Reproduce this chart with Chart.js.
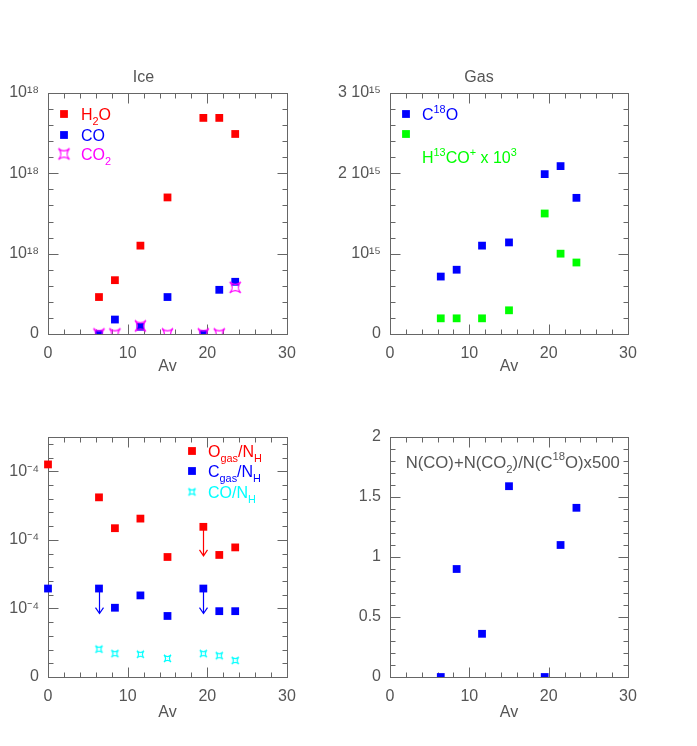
<!DOCTYPE html>
<html><head><meta charset="utf-8">
<script src="https://cdn.jsdelivr.net/npm/chart.js@4"></script>
<style>
html,body{margin:0;padding:0;background:#fff;}
#wrap{position:relative;width:697px;height:746px;overflow:hidden;background:#fff;}
canvas{position:absolute;}
</style></head><body>
<div id="wrap">
<canvas id="cIce" width="330" height="390" style="left:0;top:0"></canvas>
<canvas id="cGas" width="367" height="390" style="left:330px;top:0"></canvas>
<canvas id="cAbund" width="330" height="356" style="left:0;top:390px"></canvas>
<canvas id="cRatio" width="367" height="356" style="left:330px;top:390px"></canvas>
</div>
<script>
// ---------------- DATA ----------------
const avIce = [6.4, 8.4, 11.6, 15.0, 19.5, 21.5, 23.5];
const iceH2O = [0.46e18, 0.67e18, 1.10e18, 1.70e18, 2.69e18, 2.69e18, 2.49e18];
const iceCO  = [0, 0.18e18, 0.09e18, 0.46e18, 0, 0.55e18, 0.65e18];
const iceCO2 = [0, 0, 0.10e18, 0, 0, 0, 0.58e18];

const avGas = [6.4, 8.4, 11.6, 15.0, 19.5, 21.5, 23.5];
const gasC18O    = [0.715e15, 0.80e15, 1.10e15, 1.14e15, 1.99e15, 2.09e15, 1.695e15];
const gasH13COp  = [0.195e15, 0.195e15, 0.195e15, 0.295e15, 1.50e15, 1.00e15, 0.89e15]; // x 10^3

const avAbund = [0, 6.4, 8.4, 11.6, 15.0, 19.5, 21.5, 23.5];
const oGas      = [3.10e-4, 2.62e-4, 2.17e-4, 2.31e-4, 1.75e-4, 2.19e-4, 1.78e-4, 1.89e-4];
const oGasUpper = [false, false, false, false, false, true, false, false];
const cGas      = [1.29e-4, 1.29e-4, 1.01e-4, 1.19e-4, 0.89e-4, 1.29e-4, 0.96e-4, 0.96e-4];
const cGasUpper = [false, true, false, false, false, true, false, false];
const avCO = [6.4, 8.4, 11.6, 15.0, 19.5, 21.5, 23.5];
const coNH = [0.405e-4, 0.34e-4, 0.33e-4, 0.27e-4, 0.34e-4, 0.31e-4, 0.24e-4];

const avRatio = [6.4, 8.4, 11.6, 15.0, 19.5, 21.5, 23.5];
const ratioVals = [0, 0.90, 0.36, 1.59, 0, 1.10, 1.41];

const xTickLabels     = ['0', '10', '20', '30'];
const iceTickLabels   = ['0', '10\u00B9\u2078', '10\u00B9\u2078', '10\u00B9\u2078'];
const gasTickLabels   = ['0', '10\u00B9\u2075', '2 10\u00B9\u2075', '3 10\u00B9\u2075'];
const abundTickLabels = ['0', '10\u207B\u2074', '10\u207B\u2074', '10\u207B\u2074'];
const ratioTickLabels = ['0', '0.5', '1', '1.5', '2'];

// ---------------- STYLE ----------------
const RED = '#ff0000', BLUE = '#0000ff', GREEN = '#00ff00', MAGENTA = '#ff00ff', CYAN = '#00ffff';
const TXT = '#555555', FRAME = '#666666';
const FAM = "'Liberation Sans', Arial, sans-serif";
const FS = 16;

function pts(xs, ys) { return xs.map((x, i) => ({x: x, y: ys[i]})); }
function isMajor(v, step) { const r = v / step; return Math.abs(r - Math.round(r)) < 1e-6; }
function tickVals(min, max, step) {
  const n = Math.floor((max - min) / step + 1e-6), out = [];
  for (let i = 0; i <= n; i++) out.push({value: min + i * step});
  return out;
}
function starImg(size, color, lw) {
  const c = document.createElement('canvas');
  c.width = c.height = size + 4;
  const g = c.getContext('2d');
  const s = size / 2, cx = c.width / 2, cy = c.height / 2, k = 0.1;
  g.strokeStyle = color; g.lineWidth = lw;
  g.beginPath();
  g.moveTo(cx - s, cy - s);
  g.quadraticCurveTo(cx, cy - s * k, cx + s, cy - s);
  g.quadraticCurveTo(cx + s * k, cy, cx + s, cy + s);
  g.quadraticCurveTo(cx, cy + s * k, cx - s, cy + s);
  g.quadraticCurveTo(cx - s * k, cy, cx - s, cy - s);
  g.closePath(); g.stroke();
  return c;
}
const starMag = starImg(11, MAGENTA, 1.2);
const starCyan = starImg(7, CYAN, 1.2);

function drawRich(ctx, x, yc, parts, color, size) {
  ctx.save();
  ctx.fillStyle = color; ctx.textBaseline = 'alphabetic'; ctx.textAlign = 'left';
  const base = yc + size * 0.36;
  parts.forEach(p => {
    const t = typeof p === 'string' ? {t: p} : p;
    let fs = size, by = base;
    if (t.sub) { fs = size * 0.68; by = base + size * 0.3; }
    if (t.sup) { fs = size * 0.68; by = base - size * 0.45; }
    ctx.font = fs + 'px ' + FAM;
    ctx.fillText(t.t, x, by);
    x += ctx.measureText(t.t).width;
  });
  ctx.restore();
}

function drawMarker(ctx, x, y, m, color) {
  if (m === 'rect') { ctx.fillStyle = color; ctx.fillRect(x - 3.9, y - 3.9, 7.8, 7.8); }
  else ctx.drawImage(m, x - m.width / 2, y - m.height / 2);
}

const framePlugin = {
  id: 'frame',
  beforeDatasetsDraw(chart, args, opts) {
    const {ctx, chartArea: a, scales: {x, y}} = chart;
    ctx.save();
    ctx.strokeStyle = FRAME; ctx.lineWidth = 1;
    const L = Math.round(a.left) + 0.5, R = Math.round(a.right) + 0.5,
          T = Math.round(a.top) + 0.5, B = Math.round(a.bottom) + 0.5;
    ctx.beginPath();
    x.ticks.forEach(t => {
      const p = Math.round(x.getPixelForValue(t.value)) + 0.5;
      const len = isMajor(t.value, opts.xMajor) ? 10 : 5;
      ctx.moveTo(p, B); ctx.lineTo(p, B - len);
      ctx.moveTo(p, T); ctx.lineTo(p, T + len);
    });
    y.ticks.forEach(t => {
      const p = Math.round(y.getPixelForValue(t.value)) + 0.5;
      const len = isMajor(t.value, opts.yMajor) ? 10 : 5;
      ctx.moveTo(L, p); ctx.lineTo(L + len, p);
      ctx.moveTo(R, p); ctx.lineTo(R - len, p);
    });
    ctx.stroke();
    ctx.strokeRect(L, T, R - L, B - T);
    ctx.restore();
  }
};
Chart.register(framePlugin);

function overlay(items) {
  return {
    id: 'overlay',
    afterDatasetsDraw(chart) {
      const {ctx, chartArea: a} = chart;
      items.forEach(it => {
        if (it.marker) drawMarker(ctx, a.left + it.mx, a.top + it.my, it.marker, it.color);
        if (it.parts) drawRich(ctx, a.left + it.tx, a.top + it.ty, it.parts, it.tcolor || it.color, it.size || FS);
      });
    }
  };
}

const arrowPlugin = {
  id: 'arrows',
  beforeDatasetsDraw(chart) {
    const ctx = chart.ctx;
    chart.data.datasets.forEach((ds, i) => {
      if (!ds.upper) return;
      const meta = chart.getDatasetMeta(i);
      meta.data.forEach((el, j) => {
        if (!ds.upper[j]) return;
        const x = Math.round(el.x) + 0.5, y0 = el.y, y1 = el.y + ds.arrowLen;
        ctx.save();
        ctx.strokeStyle = ds.arrowColor; ctx.lineWidth = 1.2;
        ctx.beginPath();
        ctx.moveTo(x, y0); ctx.lineTo(x, y1);
        ctx.moveTo(x - 4, y1 - 6); ctx.lineTo(x, y1); ctx.lineTo(x + 4, y1 - 6);
        ctx.stroke();
        ctx.restore();
      });
    });
  }
};

function xScale(bottomPad) {
  return {
    type: 'linear', min: 0, max: 30,
    grid: {display: false, drawTicks: false}, border: {display: false},
    afterBuildTicks: s => { s.ticks = tickVals(0, 30, 2); },
    ticks: {autoSkip: false, maxRotation: 0, minRotation: 0, padding: 10, color: TXT,
      font: {family: FAM, size: FS},
      callback: v => isMajor(v, 10) ? xTickLabels[Math.round(v / 10)] : ''},
    title: {display: true, text: 'Av', color: TXT, font: {family: FAM, size: FS},
      padding: {top: 0, bottom: bottomPad}}
  };
}
function yScale(min, max, major, minor, labels, width) {
  return {
    type: 'linear', min: min, max: max,
    grid: {display: false, drawTicks: false}, border: {display: false},
    afterBuildTicks: s => { s.ticks = tickVals(min, max, minor); },
    afterFit: s => { s.width = width; },
    ticks: {autoSkip: false, padding: 9, color: TXT, font: {family: FAM, size: FS},
      callback: v => isMajor(v, major) ? labels[Math.round(v / major)] : ''}
  };
}

function make(id, cfg) {
  const cv = document.getElementById(id);
  const W = cv.width, H = cv.height, a = cfg.area;
  const xs = xScale(cfg.avPad);
  const xh = H - a.bottom;
  xs.afterFit = s => { s.height = xh; };
  const TITLE_PB = 5.4;
  const opts = {
    responsive: false, animation: false, devicePixelRatio: 1,
    layout: {padding: {left: 0, right: W - a.right, top: cfg.title ? a.top - 19.2 - TITLE_PB : a.top, bottom: 0}},
    plugins: {
      legend: {display: false}, tooltip: {enabled: false},
      title: {display: !!cfg.title, text: cfg.title || '', color: TXT,
        font: {family: FAM, size: FS, weight: 'normal'}, padding: {top: 0, bottom: TITLE_PB}},
      frame: {xMajor: 10, yMajor: cfg.y.major}
    },
    scales: {x: xs, y: yScale(cfg.y.min, cfg.y.max, cfg.y.major, cfg.y.minor, cfg.y.labels, a.left)}
  };
  cfg.datasets.forEach(d => {
    d.clip = {left: 12, right: 12, top: 12, bottom: 0};
  });
  return new Chart(cv, {type: 'scatter', data: {datasets: cfg.datasets}, options: opts,
    plugins: [arrowPlugin, overlay(cfg.overlay || [])]});
}

const sq = (label, xs, ys, color, order) => ({label, data: pts(xs, ys), pointStyle: 'rect',
  pointRadius: 5.5, backgroundColor: color, borderColor: color, pointBorderWidth: 0, order: order});
const st = (label, xs, ys, img, color, order) => ({label, data: pts(xs, ys), pointStyle: img,
  pointRadius: 5, backgroundColor: color, borderColor: color, pointBorderWidth: 0, order: order});

// Ice
make('cIce', {
  area: {left: 48, right: 287, top: 93, bottom: 334}, title: 'Ice', avPad: 14,
  y: {min: 0, max: 3e18, major: 1e18, minor: 0.2e18, labels: iceTickLabels},
  datasets: [
    sq('H2O', avIce, iceH2O, RED, 3),
    sq('CO', avIce, iceCO, BLUE, 2),
    st('CO2', avIce, iceCO2, starMag, MAGENTA, 1)
  ],
  overlay: [
    {marker: 'rect', color: RED, mx: 16, my: 21, tx: 33, ty: 21, parts: ['H', {t: '2', sub: true}, 'O']},
    {marker: 'rect', color: BLUE, mx: 16, my: 42, tx: 33, ty: 42, parts: ['CO']},
    {marker: starMag, color: MAGENTA, mx: 16, my: 61, tx: 33, ty: 61, parts: ['CO', {t: '2', sub: true}]}
  ]
});

// Gas
make('cGas', {
  area: {left: 60, right: 298, top: 93, bottom: 334}, title: 'Gas', avPad: 14,
  y: {min: 0, max: 3e15, major: 1e15, minor: 0.2e15, labels: gasTickLabels},
  datasets: [
    sq('C18O', avGas, gasC18O, BLUE, 1),
    sq('H13CO+ x 10^3', avGas, gasH13COp, GREEN, 2)
  ],
  overlay: [
    {marker: 'rect', color: BLUE, mx: 16, my: 21, tx: 32, ty: 21, parts: ['C', {t: '18', sup: true}, 'O']},
    {marker: 'rect', color: GREEN, mx: 16, my: 41},
    {color: GREEN, tx: 32, ty: 64, parts: ['H', {t: '13', sup: true}, 'CO', {t: '+', sup: true}, ' x 10', {t: '3', sup: true}]}
  ]
});

// Abundances
const dsO = sq('O_gas/N_H', avAbund, oGas, RED, 1);
dsO.upper = oGasUpper; dsO.arrowLen = 29; dsO.arrowColor = RED;
const dsC = sq('C_gas/N_H', avAbund, cGas, BLUE, 2);
dsC.upper = cGasUpper; dsC.arrowLen = 25; dsC.arrowColor = BLUE;
make('cAbund', {
  area: {left: 48, right: 287, top: 47, bottom: 287}, title: null, avPad: 24,
  y: {min: 0, max: 3.5e-4, major: 1e-4, minor: 0.2e-4, labels: abundTickLabels},
  datasets: [dsO, dsC, st('CO/N_H', avCO, coNH, starCyan, CYAN, 3)],
  overlay: [
    {marker: 'rect', color: RED, mx: 144, my: 14, tx: 160, ty: 14, parts: ['O', {t: 'gas', sub: true}, '/N', {t: 'H', sub: true}]},
    {marker: 'rect', color: BLUE, mx: 144, my: 34, tx: 160, ty: 34, parts: ['C', {t: 'gas', sub: true}, '/N', {t: 'H', sub: true}]},
    {marker: starCyan, color: CYAN, mx: 144, my: 55, tx: 160, ty: 55, parts: ['CO/N', {t: 'H', sub: true}]}
  ]
});

// Ratio
make('cRatio', {
  area: {left: 60, right: 298, top: 47, bottom: 287}, title: null, avPad: 24,
  y: {min: 0, max: 2, major: 0.5, minor: 0.1, labels: ratioTickLabels},
  datasets: [sq('ratio', avRatio, ratioVals, BLUE, 1)],
  overlay: [
    {color: TXT, tx: 15.7, ty: 24.7, size: 16.7, parts: ['N(CO)+N(CO', {t: '2', sub: true}, ')/N(C', {t: '18', sup: true}, 'O)x500']}
  ]
});
</script>
</body></html>
